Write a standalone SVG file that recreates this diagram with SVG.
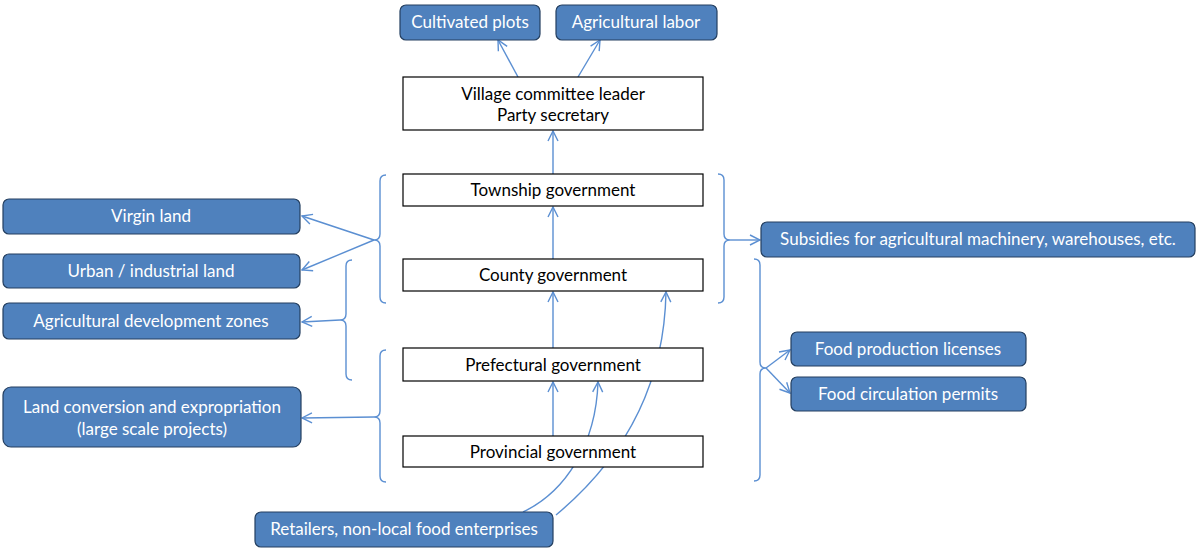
<svg xmlns="http://www.w3.org/2000/svg" width="1197" height="550" viewBox="0 0 1197 550">
<defs>
<style>
.blue{fill:#4F81BD;stroke:#243F60;stroke-width:1.2}
.wbox{fill:#fff;stroke:#000;stroke-width:1.2}
.bt{fill:#fff;font-family:Lato,"Open Sans",sans-serif;font-size:17px;text-anchor:middle}
.kt{fill:#000;font-family:Lato,"Open Sans",sans-serif;font-size:17px;text-anchor:middle}
.ln{fill:none;stroke:#5B8FD2;stroke-width:1.4}
</style>
<marker id="ah" viewBox="0 0 12 12" refX="11" refY="6" markerWidth="12" markerHeight="12" markerUnits="userSpaceOnUse" orient="auto">
<path d="M1,1 L11,6 L1,11" fill="none" stroke="#5B8FD2" stroke-width="1.4"/>
</marker>
</defs>
<g id="connectors">
<path class="ln" d="M518,77 L498,40" marker-end="url(#ah)"/>
<path class="ln" d="M578,77 L600,40" marker-end="url(#ah)"/>
<path class="ln" d="M553,174 L553,131" marker-end="url(#ah)"/>
<path class="ln" d="M553,259 L553,207" marker-end="url(#ah)"/>
<path class="ln" d="M553,348 L553,292" marker-end="url(#ah)"/>
<path class="ln" d="M553,436 L553,382" marker-end="url(#ah)"/>
<path class="ln" d="M523,512 C565,492 596,445 598,382" marker-end="url(#ah)"/>
<path class="ln" d="M556,515 C610,470 664,400 666,292" marker-end="url(#ah)"/>
<path class="ln" d="M386,175 Q380,175 380,181 L380,234 Q380,240 374,240 Q380,240 380,246 L380,297 Q380,303 386,303"/>
<path class="ln" d="M352,260 Q346,260 346,266 L346,314 Q346,320 340,320 Q346,320 346,326 L346,374 Q346,380 352,380"/>
<path class="ln" d="M386,350 Q380,350 380,356 L380,411 Q380,417 374,417 Q380,417 380,423 L380,476 Q380,482 386,482"/>
<path class="ln" d="M718,174 Q724,174 724,180 L724,234 Q724,240 730,240 Q724,240 724,246 L724,297 Q724,303 718,303"/>
<path class="ln" d="M754,259 Q760,259 760,265 L760,362 Q760,368 766,368 Q760,368 760,374 L760,475 Q760,481 754,481"/>
<path class="ln" d="M374,240 L302,216" marker-end="url(#ah)"/>
<path class="ln" d="M374,240 L302,270" marker-end="url(#ah)"/>
<path class="ln" d="M340,320 L302,322" marker-end="url(#ah)"/>
<path class="ln" d="M374,417 L302,418" marker-end="url(#ah)"/>
<path class="ln" d="M730,240 L760,240" marker-end="url(#ah)"/>
<path class="ln" d="M766,368 L790,350" marker-end="url(#ah)"/>
<path class="ln" d="M766,368 L790,393" marker-end="url(#ah)"/>
</g>
<g id="cultivated"><rect class="blue" x="400" y="5" width="140" height="35" rx="6"/><text class="bt" x="470" y="28">Cultivated plots</text></g>
<g id="labor"><rect class="blue" x="556" y="5" width="161" height="35" rx="6"/><text class="bt" x="636" y="28">Agricultural labor</text></g>
<g id="village"><rect class="wbox" x="403" y="77" width="300" height="53"/><text class="kt" x="553" y="100">Village committee leader</text><text class="kt" x="553" y="121">Party secretary</text></g>
<g id="township"><rect class="wbox" x="403" y="174" width="300" height="32"/><text class="kt" x="553" y="196">Township government</text></g>
<g id="county"><rect class="wbox" x="403" y="259" width="300" height="32"/><text class="kt" x="553" y="281">County government</text></g>
<g id="prefectural"><rect class="wbox" x="403" y="348" width="300" height="33"/><text class="kt" x="553" y="371">Prefectural government</text></g>
<g id="provincial"><rect class="wbox" x="403" y="436" width="300" height="31"/><text class="kt" x="553" y="458">Provincial government</text></g>
<g id="virgin"><rect class="blue" x="3" y="199" width="297" height="35" rx="6"/><text class="bt" x="151" y="222">Virgin land</text></g>
<g id="urban"><rect class="blue" x="3" y="254" width="297" height="34" rx="6"/><text class="bt" x="151" y="277">Urban / industrial land</text></g>
<g id="agzones"><rect class="blue" x="3" y="303" width="297" height="36" rx="6"/><text class="bt" x="151" y="327">Agricultural development zones</text></g>
<g id="landconv"><rect class="blue" x="3" y="387" width="298" height="60" rx="8"/><text class="bt" x="152" y="413">Land conversion and expropriation</text><text class="bt" x="152" y="435">(large scale projects)</text></g>
<g id="retailers"><rect class="blue" x="255" y="512" width="298" height="35" rx="6"/><text class="bt" x="404" y="535">Retailers, non-local food enterprises</text></g>
<g id="subsidies"><rect class="blue" x="761" y="222" width="434" height="35" rx="6"/><text class="bt" x="978" y="245">Subsidies for agricultural machinery, warehouses, etc.</text></g>
<g id="foodprod"><rect class="blue" x="791" y="332" width="235" height="34" rx="6"/><text class="bt" x="908" y="355">Food production licenses</text></g>
<g id="foodcirc"><rect class="blue" x="791" y="377" width="235" height="34" rx="6"/><text class="bt" x="908" y="400">Food circulation permits</text></g>
</svg>
